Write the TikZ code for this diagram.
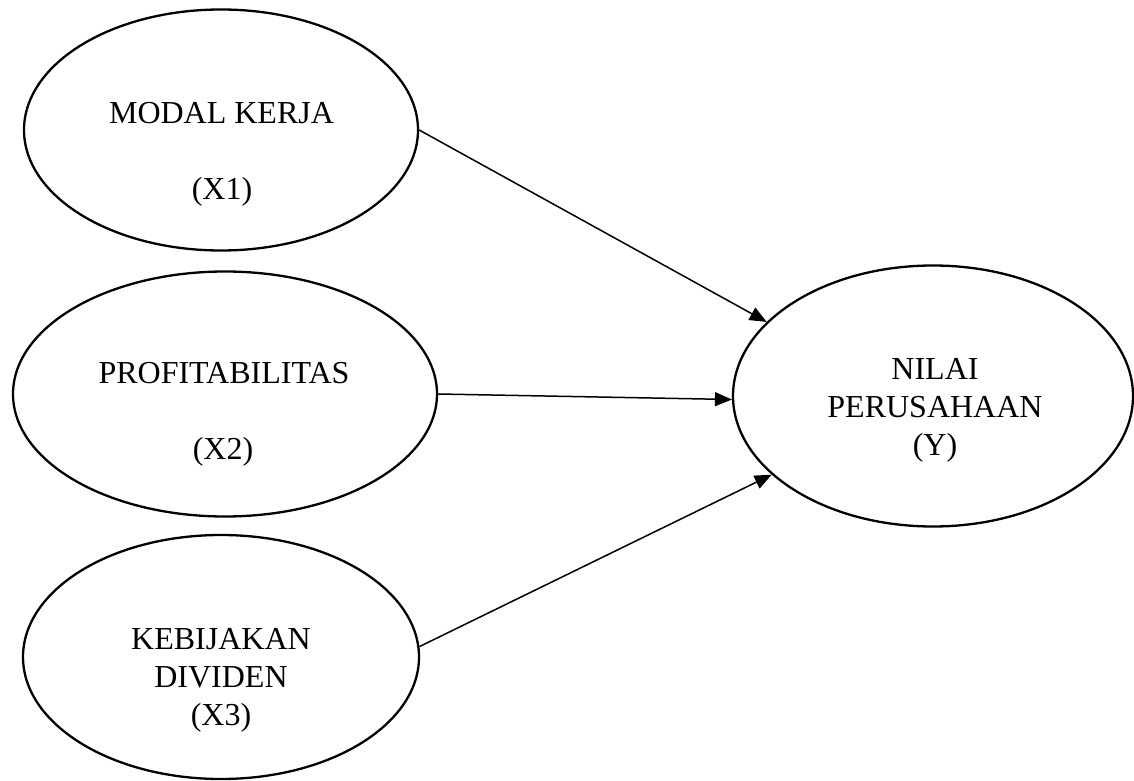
\documentclass[tikz,border=0pt]{standalone}
\usepackage{fontspec}
\setmainfont{Liberation Serif}
\usetikzlibrary{shapes.geometric,arrows.meta}
\begin{document}
\begin{tikzpicture}[x=1pt,y=1pt,
  var/.style={draw=black,line width=2.3pt,ellipse,inner sep=0pt},
  lbl/.style={font=\fontsize{32}{38}\selectfont,align=center,inner sep=0pt},
  link/.style={line width=1.5pt,-{Triangle[length=17pt,width=14pt]}}]
\useasboundingbox (0,0) rectangle (1134,780);
\node[var,minimum width=394pt,minimum height=241pt] (x1) at (221,650) {};
\node[var,minimum width=424pt,minimum height=245pt] (x2) at (225,386) {};
\node[var,minimum width=396pt,minimum height=244pt] (x3) at (221,123) {};
\node[var,minimum width=400pt,minimum height=261pt] (y) at (933,384) {};
\node[lbl] (t1a) at (221.5,667) {MODAL KERJA};
\node[lbl] (t1b) at (222,588) {(X1)};
\node[lbl] (t2a) at (224,407) {PROFITABILITAS};
\node[lbl] (t2b) at (223,328) {(X2)};
\node[lbl] (t3) at (221,100) {KEBIJAKAN\\DIVIDEN\\(X3)};
\node[lbl] (ty) at (935,370) {NILAI\\PERUSAHAAN\\(Y)};
\draw[link] (x1.east) -- (y.156.6);
\draw[link] (x2.east) -- (y.181.5);
\draw[link] (x3.3.5) -- (y.206.7);
\end{tikzpicture}
\end{document}
